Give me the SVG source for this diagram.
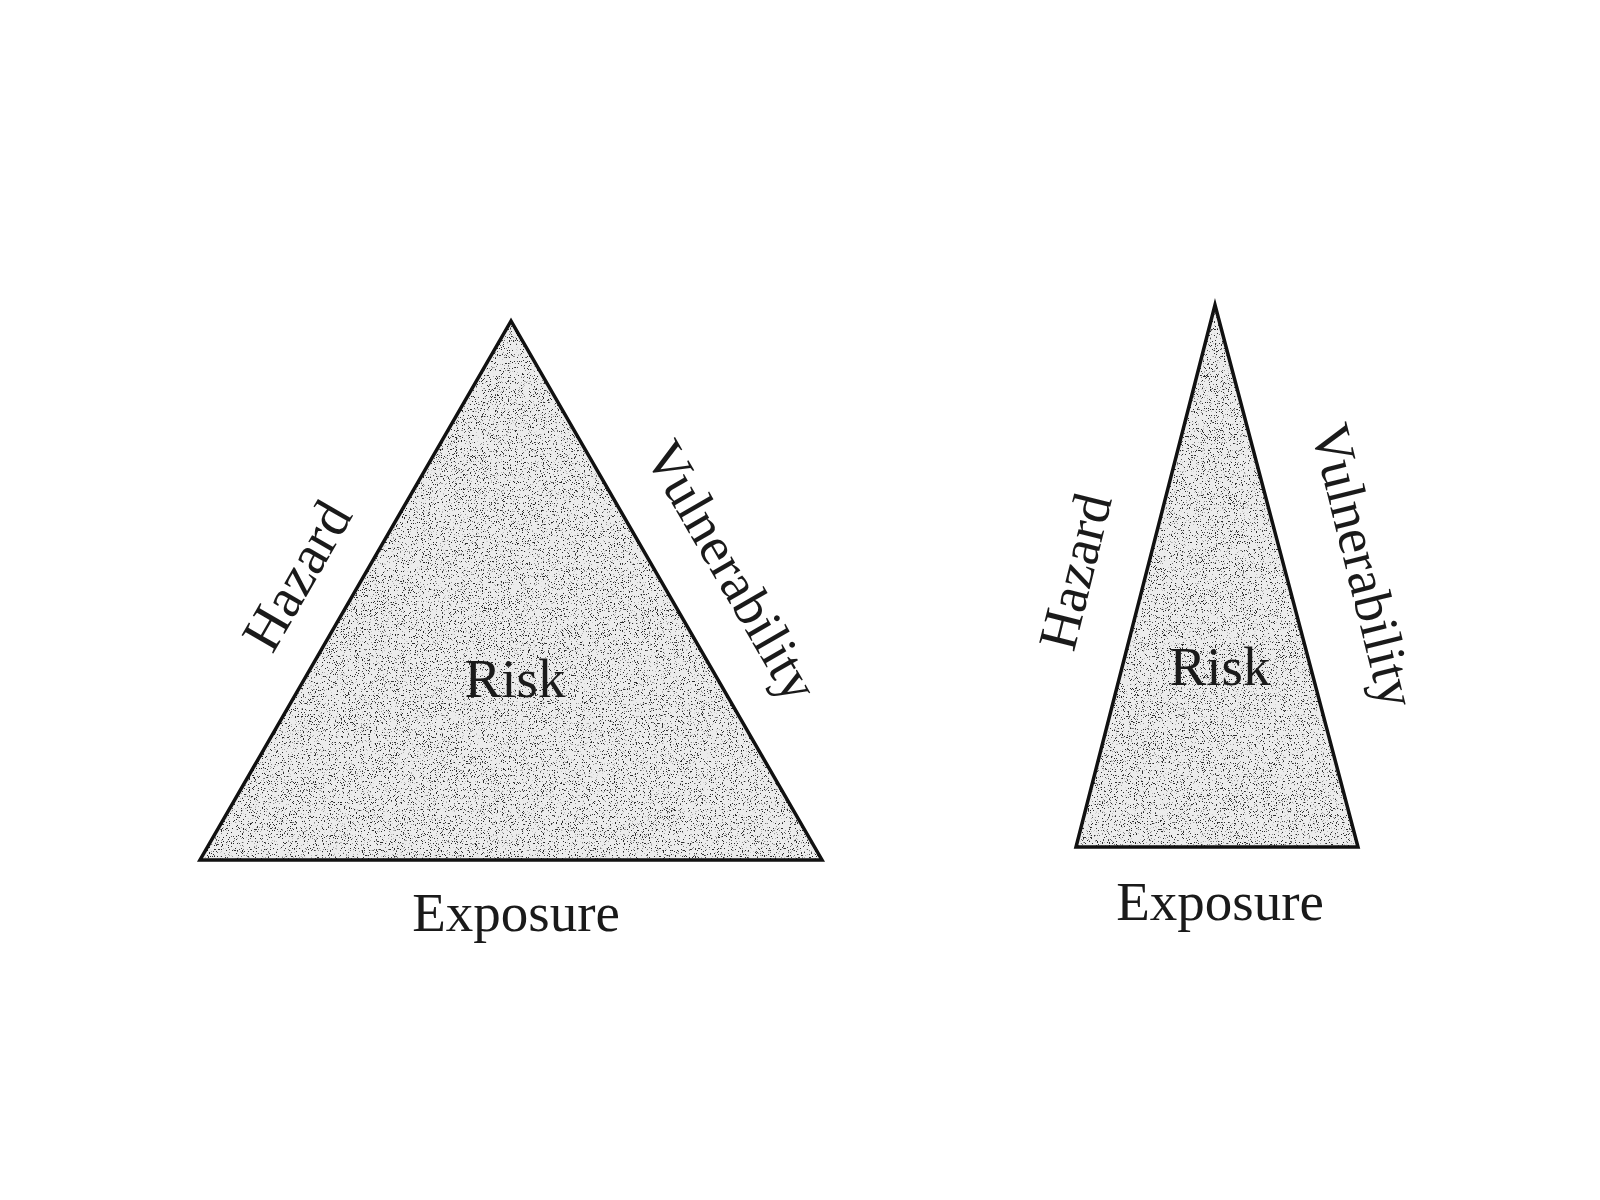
<svg xmlns="http://www.w3.org/2000/svg" width="1600" height="1200" viewBox="0 0 1600 1200">
  <style>
    .tri { fill: #ececec; stroke: none; }
    .dots { fill: #2a2a2a; stroke: none; filter: url(#stipple); }
    .edge { fill: none; stroke: #111; stroke-width: 3.5; stroke-linejoin: miter; }
    .lbl { font-family: "Liberation Serif", "DejaVu Serif", serif; font-size: 55px; fill: #1a1a1a; text-anchor: middle; }
  </style>
  <defs>
    <filter id="stipple" x="0" y="0" width="100%" height="100%" filterUnits="objectBoundingBox">
      <feTurbulence type="fractalNoise" baseFrequency="0.85" numOctaves="2" seed="7" result="n"/>
      <feColorMatrix in="n" type="matrix" values="0 0 0 0 0  0 0 0 0 0  0 0 0 0 0  14 0 0 0 -8.6" result="m"/>
      <feComposite in="SourceGraphic" in2="m" operator="in"/>
    </filter>
  </defs>
  <rect x="0" y="0" width="1600" height="1200" fill="#ffffff"/>

  <g id="left-triangle">
    <polygon class="tri" points="511,321 200,860 822,860"/>
    <polygon class="dots" points="511,321 200,860 822,860"/>
    <polygon class="edge" points="511,321 200,860 822,860"/>
    <text class="lbl" x="515" y="697">Risk</text>
    <text class="lbl" x="516" y="931">Exposure</text>
    <text class="lbl" style="font-size:56px" transform="translate(313,585) rotate(-60)" x="0" y="0">Hazard</text>
    <text class="lbl" transform="translate(716,580) rotate(60)" x="0" y="0">Vulnerability</text>
  </g>

  <g id="right-triangle">
    <polygon class="tri" points="1215,305 1076,847 1358,847"/>
    <polygon class="dots" points="1215,305 1076,847 1358,847"/>
    <polygon class="edge" points="1215,305 1076,847 1358,847"/>
    <text class="lbl" x="1220" y="685">Risk</text>
    <text class="lbl" x="1220" y="920">Exposure</text>
    <text class="lbl" transform="translate(1093,576) rotate(-76)" x="0" y="0">Hazard</text>
    <text class="lbl" transform="translate(1346,570) rotate(76)" x="0" y="0">Vulnerability</text>
  </g>

  <g id="connectors"></g>
</svg>
